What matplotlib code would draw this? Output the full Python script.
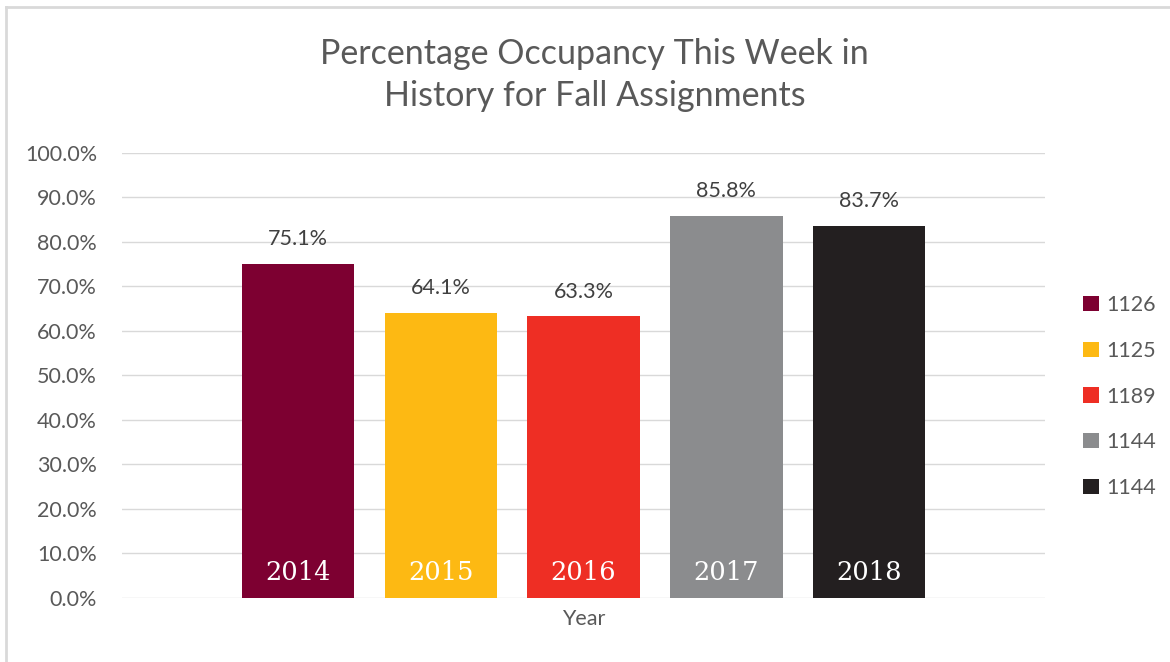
import matplotlib.pyplot as plt
from matplotlib.lines import Line2D
from matplotlib.patches import Patch
from matplotlib.ticker import FuncFormatter

# data
years = ["2014", "2015", "2016", "2017", "2018"]
occupancy = [75.1, 64.1, 63.3, 85.8, 83.7]
legend_labels = ["1126", "1125", "1189", "1144", "1144"]
colors = ["#7d0031", "#fdb913", "#ee2e24", "#8b8c8e", "#231f20"]

plt.rcParams['font.family'] = ['Lato', 'DejaVu Sans']

fig = plt.figure(figsize=(11.7, 6.62), dpi=100)
ax = fig.add_axes([0.1043, 0.0967, 0.7889, 0.6722])

x_pos = list(range(len(years)))
bars = ax.bar(x_pos, occupancy, width=0.786, color=colors, zorder=3)

# value labels above bars, year labels inside bars
for i, b in enumerate(bars):
    ax.text(b.get_x() + b.get_width() / 2, occupancy[i] + 3.3, "%.1f%%" % occupancy[i],
            ha='center', va='bottom', fontsize=15.5, color='#404040')
    ax.text(b.get_x() + b.get_width() / 2, 5.8, years[i], ha='center', va='center',
            fontsize=18.5, color='white', family='DejaVu Serif', zorder=4)

ax.set_ylim(0, 100)
ax.set_xlim(-1.23, 5.23)
ax.set_yticks(range(0, 101, 10))
ax.yaxis.set_major_formatter(FuncFormatter(lambda v, p: "%.1f%%" % v))
ax.set_xticks([2])
ax.set_xticklabels(["Year"])
ax.tick_params(axis='both', length=0, labelsize=15.5, labelcolor='#595959')
ax.tick_params(axis='y', pad=18)
ax.tick_params(axis='x', pad=8)
ax.grid(axis='y', color='#d9d9d9', linewidth=1, zorder=0)
for s in ax.spines.values():
    s.set_visible(False)

fig.suptitle("Percentage Occupancy This Week in\nHistory for Fall Assignments",
             x=0.508, y=0.942, fontsize=24.5, color='#595959', linespacing=1.36)

handles = [Patch(facecolor=c) for c in colors]
fig.legend(handles, legend_labels, loc='center left', bbox_to_anchor=(0.9095, 0.401),
           frameon=False, fontsize=15.5, labelcolor='#595959', handlelength=0.7,
           handleheight=0.7, handletextpad=0.35, labelspacing=1.2)

# light frame on top and left
fig.add_artist(Line2D([0.0055, 0.0055], [0, 0.99], transform=fig.transFigure,
                      color='#d9d9d9', linewidth=2))
fig.add_artist(Line2D([0.0055, 1], [0.99, 0.99], transform=fig.transFigure,
                      color='#d9d9d9', linewidth=2))

fig.savefig("out.png", dpi=100, facecolor='white')
